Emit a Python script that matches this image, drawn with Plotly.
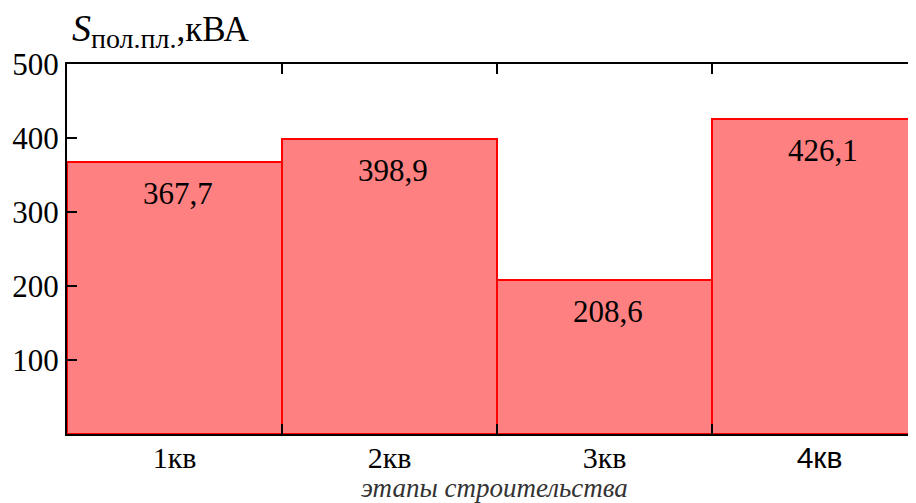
import plotly.graph_objects as go

# quarters of construction and the power demand for each
stages = ["1кв", "2кв", "3кв", "4кв"]
stage_labels = ["1кв", "2кв", "3кв", "<span style='font-family:Liberation Sans'>4кв</span>"]
power_kva = [367.7, 398.9, 208.6, 426.1]
y_ticks = [100, 200, 300, 400, 500]

serif = "Liberation Serif"

fig = go.Figure()

fig.add_trace(go.Bar(
    x=stages,
    y=power_kva,
    marker=dict(color="#FF8080", line=dict(color="#FF0000", width=2)),
    hoverinfo="x+y",
    showlegend=False,
))

# value labels placed just inside the top of each bar
annotations = []
for s, v in zip(stages, power_kva):
    annotations.append(dict(
        x=s, y=v, xref="x", yref="y",
        text=f"{v:.1f}".replace(".", ","),
        showarrow=False,
        yanchor="top",
        yshift=-12,
        xshift=3,
        font=dict(family=serif, size=31, color="black"),
    ))

# y-axis caption above the plot
annotations.append(dict(
    x=0.003, y=1.0, xref="paper", yref="paper",
    xanchor="left", yanchor="bottom", yshift=8,
    text="<span style='font-size:38px'><i>S</i></span>"
         "<sub><span style='font-size:28px'>пол.пл.</span></sub>,кВА",
    showarrow=False,
    font=dict(family=serif, size=35, color="black"),
))

# x-axis caption under the tick labels
annotations.append(dict(
    x=0.4994, y=0, xref="paper", yref="paper",
    xanchor="center", yanchor="middle", yshift=-54,
    text="<i>этапы строительства</i>",
    showarrow=False,
    font=dict(family=serif, size=27, color="#333333"),
))

# the page body has an 8px margin, so the plot area is offset by that much
fig.update_layout(
    width=916,
    height=503,
    margin=dict(l=59, r=0, t=56, b=77, autoexpand=False),
    bargap=0,
    plot_bgcolor="white",
    paper_bgcolor="white",
    annotations=annotations,
    xaxis=dict(
        type="category",
        tickmode="array",
        tickvals=stages,
        ticktext=stage_labels,
        tickson="boundaries",
        range=[-0.5, 3.486],
        automargin=False,
        ticks="inside",
        ticklen=10,
        tickwidth=2,
        tickcolor="black",
        showline=True,
        linecolor="black",
        linewidth=2,
        mirror="ticks",
        showgrid=False,
        ticklabelstandoff=-4,
        tickfont=dict(family=serif, size=30, color="black"),
    ),
    yaxis=dict(
        range=[0, 500],
        tickmode="array",
        tickvals=y_ticks,
        automargin=False,
        ticks="inside",
        ticklen=10,
        tickwidth=2,
        tickcolor="black",
        showline=True,
        linecolor="black",
        linewidth=2,
        showgrid=False,
        zeroline=False,
        tickfont=dict(family=serif, size=31, color="black"),
    ),
)

fig.write_html("out.html")
